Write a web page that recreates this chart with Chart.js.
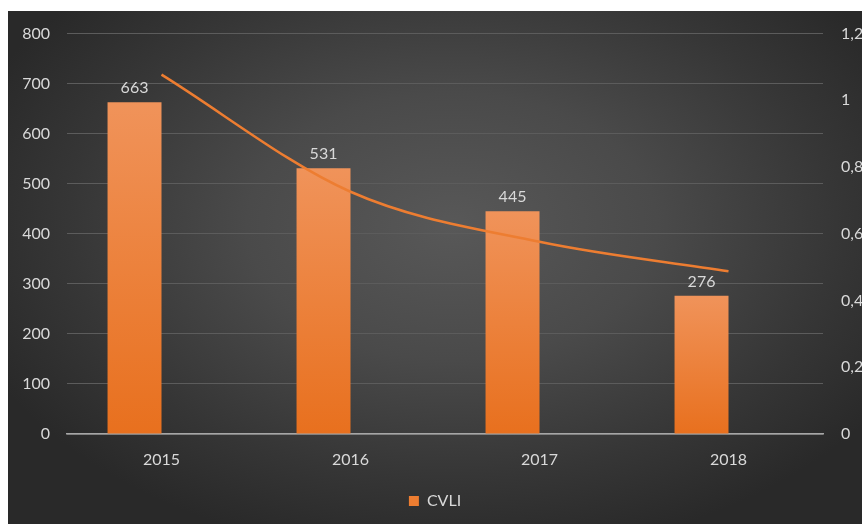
<!DOCTYPE html>
<html>
<head>
<meta charset="utf-8">
<script src="https://cdn.jsdelivr.net/npm/chart.js@4.4.1/dist/chart.umd.min.js"></script>
<style>
  html, body { margin: 0; padding: 0; background: #ffffff; }
  #wrap {
    position: absolute; left: 8px; top: 11px; width: 854px; height: 513px;
    background: radial-gradient(ellipse 60% 65% at 52% 42%, #585858 0%, #4a4a4a 40%, #363636 75%, #292929 100%);
  }
  #box { position: absolute; left: 8px; top: 6px; width: 854px; height: 518px; }
</style>
</head>
<body>
<div id="wrap"></div>
<div id="box"><canvas id="chart"></canvas></div>
<script>
// chart data
const years = ["2015", "2016", "2017", "2018"];
const cvli = [663, 531, 445, 276];
// trend line at each year
const trend = [718, 484, 384, 325];
const leftTicks = [0, 100, 200, 300, 400, 500, 600, 700, 800];
const rightTicks = [0, 0.2, 0.4, 0.6, 0.8, 1, 1.2];

const textColor = "#d9d9d9";
const fontFamily = "Lato, 'DejaVu Sans', sans-serif";

// gradient per bar, lighter at the top
function barGradient(context) {
  const chart = context.chart;
  const yScale = chart.scales.y;
  if (!chart.chartArea || !yScale) return "#ed7d31";
  const top = yScale.getPixelForValue(context.raw);
  const base = yScale.getPixelForValue(0);
  const g = chart.ctx.createLinearGradient(0, top, 0, base);
  g.addColorStop(0, "#f0935a");
  g.addColorStop(1, "#e8701e");
  return g;
}

// value labels above the bars
const barLabels = {
  id: "barLabels",
  afterDatasetsDraw(chart) {
    const ctx = chart.ctx;
    const meta = chart.getDatasetMeta(0);
    ctx.save();
    ctx.font = "16px " + fontFamily;
    ctx.fillStyle = textColor;
    ctx.textAlign = "center";
    ctx.textBaseline = "bottom";
    meta.data.forEach((bar, i) => {
      ctx.fillText(String(cvli[i]), bar.x, bar.y - 6);
    });
    ctx.restore();
  },
};

new Chart(document.getElementById("chart"), {
  data: {
    labels: years,
    datasets: [
      {
        type: "bar",
        label: "CVLI",
        data: cvli,
        yAxisID: "y",
        backgroundColor: barGradient,
        categoryPercentage: 0.571,
        barPercentage: 1,
        order: 2,
      },
      {
        // empty secondary series, keeps the CVLI bar left of centre
        type: "bar",
        label: "",
        data: [null, null, null, null],
        yAxisID: "y1",
        backgroundColor: "rgba(0,0,0,0)",
        categoryPercentage: 0.571,
        barPercentage: 1,
        order: 3,
      },
      {
        type: "line",
        label: "trend",
        data: trend,
        yAxisID: "y",
        borderColor: "#ed7d31",
        borderWidth: 2.5,
        pointRadius: 0,
        cubicInterpolationMode: "monotone",
        fill: false,
        order: 1,
      },
    ],
  },
  options: {
    responsive: true,
    maintainAspectRatio: false,
    animation: false,
    layout: { padding: { top: 0, bottom: 5, left: 0, right: 0 } },
    plugins: {
      tooltip: { enabled: false },
      legend: {
        position: "bottom",
        labels: {
          color: textColor,
          font: { family: fontFamily, size: 16 },
          boxWidth: 10,
          boxHeight: 10,
          padding: 10,
          generateLabels: () => [{
            text: "CVLI",
            fillStyle: "#ed7d31",
            strokeStyle: "#ed7d31",
            lineWidth: 0,
            fontColor: textColor,
            datasetIndex: 0,
          }],
        },
      },
    },
    scales: {
      x: {
        grid: { display: false, drawTicks: false },
        border: { color: "#a6a6a6", width: 1.5 },
        ticks: { color: textColor, font: { family: fontFamily, size: 16 }, padding: 16 },
        afterFit: (scale) => { scale.height = 49; },
      },
      y: {
        position: "left",
        min: 0,
        max: 800,
        afterBuildTicks: (scale) => { scale.ticks = leftTicks.map((v) => ({ value: v })); },
        grid: { color: "#5c5c5c", lineWidth: 1, drawTicks: false },
        border: { display: false },
        ticks: { color: textColor, font: { family: fontFamily, size: 16 }, padding: 17 },
        afterFit: (scale) => { scale.width = 59; },
      },
      y1: {
        position: "right",
        min: 0,
        max: 1.2,
        afterBuildTicks: (scale) => { scale.ticks = rightTicks.map((v) => ({ value: v })); },
        grid: { display: false, drawTicks: false },
        border: { display: false },
        ticks: {
          color: textColor,
          font: { family: fontFamily, size: 16 },
          padding: 18,
          callback: (v) => String(Math.round(v * 10) / 10).replace(".", ","),
        },
        afterFit: (scale) => { scale.width = 39; },
      },
    },
  },
  plugins: [barLabels],
});
</script>
</body>
</html>
